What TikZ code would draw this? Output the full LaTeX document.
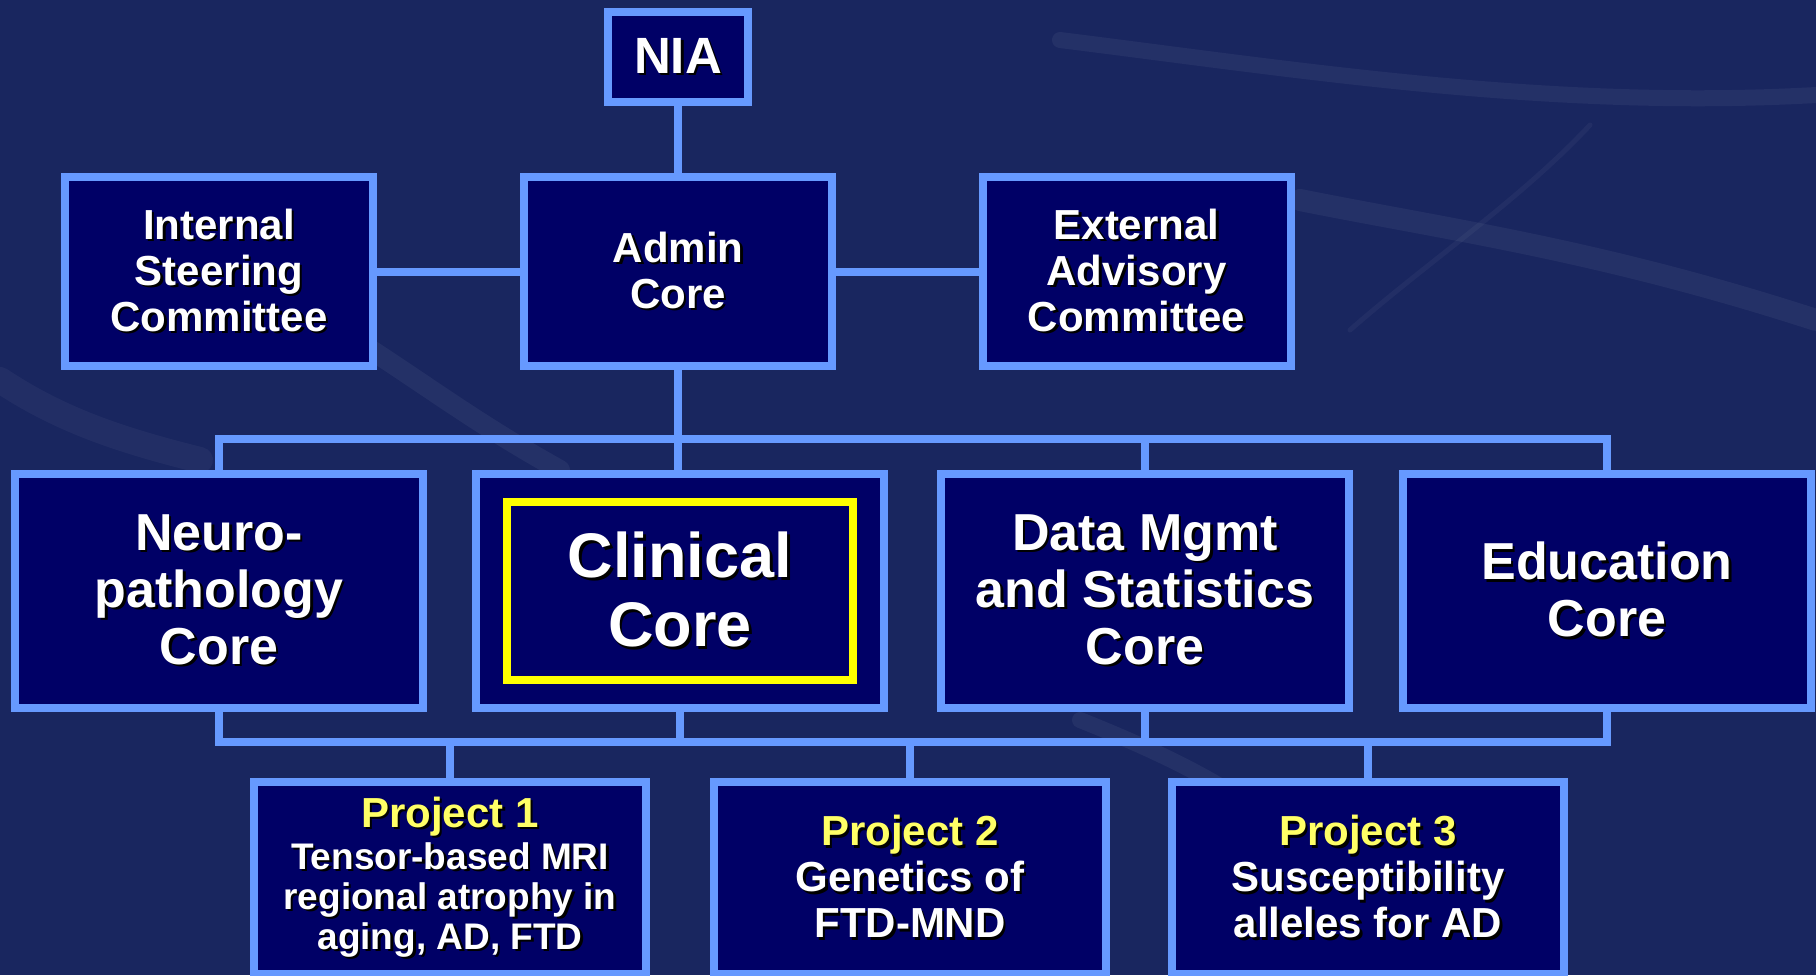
\documentclass[tikz,border=0pt]{standalone}
\usepackage{fontspec}
\setmainfont{Liberation Sans}
\definecolor{bgblue}{HTML}{19265F}
\definecolor{boxblue}{HTML}{000066}
\definecolor{lineblue}{HTML}{6699FF}
\definecolor{hiyellow}{HTML}{FFFF00}
\definecolor{projyellow}{HTML}{FFFF66}
% text with a small black drop shadow
\newcommand{\shd}[1]{\makebox[0pt][l]{\kern2.5pt\raisebox{-2.5pt}{\color{black}#1}}#1}
\begin{document}
\begin{tikzpicture}[x=1pt,y=-1pt]
\tikzstyle{every node}+=[inner sep=0pt]
\tikzstyle{orgbox}=[draw=lineblue, line width=8pt, fill=boxblue, text=white, align=center]
\tikzstyle{topbox}=[orgbox, minimum width=308pt, minimum height=189pt, font=\fontsize{42}{46}\selectfont\bfseries]
\tikzstyle{corebox}=[orgbox, minimum width=408pt, minimum height=234pt, font=\fontsize{52}{57}\selectfont\bfseries]
\tikzstyle{projbox}=[orgbox, minimum width=392pt, minimum height=192pt, font=\fontsize{42}{46}\selectfont\bfseries]
\tikzstyle{conn}=[draw=lineblue, line width=8pt]
\useasboundingbox (0,0) rectangle (1816,975);
\clip (0,0) rectangle (1816,975);
% marble background
\fill [bgblue] (0,0) rectangle (1816,975);
\draw [white, opacity=0.05, line width=22pt, line cap=round] (1300,200) .. controls (1450,230) and (1600,250) .. (1816,320);
\draw [white, opacity=0.05, line width=16pt, line cap=round] (1060,40) .. controls (1300,70) and (1550,110) .. (1816,95);
\draw [white, opacity=0.04, line width=5pt, line cap=round] (1590,125) .. controls (1520,200) and (1430,260) .. (1350,330);
\draw [white, opacity=0.05, line width=20pt, line cap=round] (340,330) .. controls (420,380) and (470,420) .. (560,470);
\draw [white, opacity=0.04, line width=26pt, line cap=round] (0,380) .. controls (60,420) and (120,440) .. (200,460);
\draw [white, opacity=0.05, line width=16pt, line cap=round] (1080,720) .. controls (1180,760) and (1260,800) .. (1330,870);
% boxes
\node [orgbox, minimum width=140pt, minimum height=90pt, font=\fontsize{51}{55}\selectfont\bfseries] (nia) at (678,57) {\shd{NIA}};
\node [topbox] (steer) at (219,271.5) {\shd{Internal}\\\shd{Steering}\\\shd{Committee}};
\node [topbox] (admin) at (678,271.5) {\shd{Admin}\\\shd{Core}};
\node [topbox] (advis) at (1136.5,271.5) {\shd{External}\\\shd{Advisory}\\\shd{Committee}};
\node [corebox] (neuro) at (219,591) {\shd{Neuro-}\\\shd{pathology}\\\shd{Core}};
\node [corebox] (clin) at (680,591) {};
\node [orgbox, draw=hiyellow, minimum width=346pt, minimum height=178pt, font=\fontsize{63}{69}\selectfont\bfseries] (clintxt) at (clin.center) {\shd{Clinical}\\\shd{Core}};
\node [corebox] (datam) at (1145,591) {\shd{Data Mgmt}\\\shd{and Statistics}\\\shd{Core}};
\node [corebox] (educ) at (1607,591) {\shd{Education}\\\shd{Core}};
\node [projbox, font=\fontsize{37}{40}\selectfont\bfseries] (proj1) at (450,878) {{\fontsize{42}{46}\selectfont\textcolor{projyellow}{\shd{Project 1}}}\\[2pt]\shd{Tensor-based MRI}\\\shd{regional atrophy in}\\\shd{aging, AD, FTD}};
\node [projbox] (proj2) at (910,878) {\textcolor{projyellow}{\shd{Project 2}}\\\shd{Genetics of}\\\shd{FTD-MND}};
\node [projbox] (proj3) at (1368,878) {\textcolor{projyellow}{\shd{Project 3}}\\\shd{Susceptibility}\\\shd{alleles for AD}};
% connectors
\coordinate (upbus) at (0,439);
\coordinate (lowbus) at (0,742);
\draw [conn] (nia) -- (admin);
\draw [conn] (steer) -- (admin);
\draw [conn] (admin) -- (advis);
\draw [conn] (admin.south) -- (admin.south |- clin.north);
\draw [conn] (neuro.north) -- (neuro.north |- upbus) -- (educ.north |- upbus) -- (educ.north);
\draw [conn] (datam.north) -- (datam.north |- upbus);
\draw [conn] (neuro.south) -- (neuro.south |- lowbus) -- (educ.south |- lowbus) -- (educ.south);
\draw [conn] (clin.south) -- (clin.south |- lowbus);
\draw [conn] (datam.south) -- (datam.south |- lowbus);
\foreach \p in {proj1,proj2,proj3}
  \draw [conn] (\p.north) -- (\p.north |- lowbus);
\end{tikzpicture}
\end{document}
